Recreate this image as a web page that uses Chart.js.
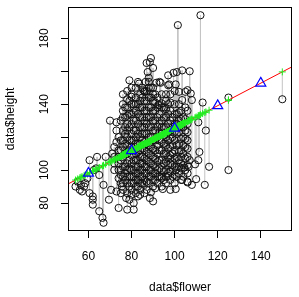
<!DOCTYPE html>
<html>
<head>
<meta charset="utf-8">
<script src="https://cdn.jsdelivr.net/npm/chart.js@4"></script>
<style>body{margin:0;background:#fff}</style>
</head>
<body>
<canvas id="myChart" width="299" height="297"></canvas>
<script>
// points (data$flower, data$height)
const edgeFlower = [
  54, 55, 56, 56.5, 57, 58, 58.5, 59.5, 60.5, 60.5, 62, 62, 62, 64, 63.5, 65, 66.5, 67, 67, 68,
  69.5, 70.5, 71, 70, 73, 73, 73, 76, 62.5, 65,
  74, 73, 75, 75.5, 77.5, 78, 79, 80, 81, 81, 83, 84, 86, 88.5, 90, 89, 86, 91, 94.5, 98,
  100.5, 94, 97,
  100.5, 98, 103, 103, 106, 103.5, 106, 108, 110, 114, 104.5, 106.5, 107, 109.5, 111, 111.5, 116, 114.5, 111, 125,
  125, 150, 112, 113, 101.5, 103.5, 107, 101, 106, 107.5, 108, 103.5, 105, 102, 97, 99.5, 93.5, 97, 93, 96,
  94, 92.5,
  89, 88.5, 90, 87.5, 87, 79, 83, 83.5, 88, 91.5, 93, 97.5, 100.5, 86, 80, 85.5, 86.5
];
const edgeHeight = [
  90, 93, 88, 91, 87, 90, 92, 95, 86, 106, 84, 79, 82, 108, 101, 75, 71, 68, 91, 108,
  82, 88, 110, 130, 129, 124, 117, 136, 100, 97,
  77, 87, 86, 90, 83, 76, 82, 85, 76, 80, 84, 85, 86, 83, 81, 86.5, 91, 89, 88.5, 88,
  88.5, 96, 96.5,
  100, 107, 101, 94, 92.5, 94, 93, 91, 94.5, 91, 101.5, 102, 106, 103.5, 106, 111, 102, 124, 129, 100,
  144, 143, 194, 141, 188, 160.5, 160, 159.5, 148.5, 146.5, 142.5, 142.5, 147.5, 147.5, 157.5, 159, 153, 151.5, 139.5, 146,
  140.5, 139.5,
  168, 165.5, 162, 159.5, 165, 154.5, 153.5, 152.5, 153.5, 153, 153.5, 152, 152, 147.5, 144.5, 148.5, 153.5
];

// colonnes denses au centre du nuage
const stripFlower = [72, 74, 75, 76, 77, 78, 79, 80, 81, 82, 83, 84, 85, 86, 87, 88, 89,
  90, 91, 92, 93, 94, 95, 96, 97, 98, 99, 100, 101, 102, 103, 104, 105, 106];
const stripHeight = [
  [100, 104, 108, 114],
  [95, 100, 104, 108, 112, 120],
  [92, 97, 100, 106, 112, 118, 130],
  [88, 92, 96, 102, 108, 114, 118, 124, 132, 140, 146],
  [94, 98, 102, 110, 116, 122, 126, 132, 138],
  [86, 92, 96, 100, 104, 110, 115, 120, 124, 128, 133, 138, 143, 148],
  [90, 96, 101, 106, 112, 118, 126, 134, 142],
  [88, 92, 96, 100, 104, 109, 114, 118, 122, 128, 134, 140, 146, 150],
  [92, 96, 100, 106, 112, 118, 124, 130, 135, 140],
  [86, 90, 94, 98, 102, 106, 110, 116, 120, 124, 130, 136, 140, 144, 150],
  [90, 94, 98, 102, 106, 111, 116, 122, 128, 134, 140],
  [88, 92, 96, 100, 104, 108, 112, 116, 120, 126, 132, 138, 142, 146],
  [92, 96, 100, 104, 108, 113, 118, 122, 126, 132, 138, 144, 150],
  [94, 98, 102, 107, 112, 117, 122, 126, 130, 136, 142, 148],
  [88, 93, 98, 102, 106, 111, 116, 122, 128, 132, 136, 142, 148],
  [92, 96, 100, 105, 110, 115, 120, 126, 132, 138, 144, 150, 156],
  [96, 100, 104, 109, 114, 120, 126, 132, 138, 144, 150],
  [90, 94, 98, 103, 108, 113, 118, 124, 130, 136, 142, 146, 150],
  [94, 98, 102, 107, 112, 118, 124, 130, 136, 141, 146],
  [92, 96, 100, 105, 110, 115, 120, 126, 132, 138, 144],
  [96, 101, 106, 112, 118, 123, 128, 134],
  [90, 95, 100, 106, 112, 117, 122, 126, 130, 138, 146],
  [94, 99, 104, 110, 116, 121, 126, 132, 138],
  [92, 96, 100, 105, 110, 115, 120, 126, 132, 137, 142],
  [98, 103, 108, 113, 118, 123, 128, 134, 140],
  [94, 99, 104, 109, 114, 119, 124, 130, 136, 141, 146],
  [96, 103, 110, 115, 120, 126, 132],
  [92, 97, 102, 107, 112, 118, 123, 128, 134, 140, 148],
  [96, 102, 108, 115, 122, 128, 134],
  [98, 102, 106, 111, 116, 123, 130, 135, 140],
  [104, 108, 112, 119, 126, 131, 136],
  [96, 103, 110, 115, 120, 126, 132],
  [100, 107, 114, 119, 124, 131, 138],
  [98, 103, 108, 113, 118, 123, 128, 136]
];

const fitCoef = [57, 0.684]; // ordonnee, pente (lm)
const predFlower = [60, 80, 100, 120, 140];

const xTicks = [60, 80, 100, 120, 140];
const xTickLabels = ["60", "80", "100", "120", "140"];
const yTicks = [80, 100, 120, 140, 160, 180];
const yTickLabels = ["80", "100", "", "140", "", "180"];
const xRange = [50.5, 154.5];
const yRange = [63, 199];

// table des points
const flower = edgeFlower.slice();
const height = edgeHeight.slice();
stripFlower.forEach((f, i) => {
  stripHeight[i].forEach(h => { flower.push(f); height.push(h); });
});

const fit = f => fitCoef[0] + fitCoef[1] * f;

const obsPoints = flower.map((f, i) => ({x: f, y: height[i]}));
const fittedPoints = flower.map(f => ({x: f, y: fit(f)}));
const segPoints = [];
flower.forEach((f, i) => {
  segPoints.push({x: f, y: height[i]}, {x: f, y: fit(f)}, {x: f, y: null});
});
const predPoints = predFlower.map(f => ({x: f, y: fit(f)}));
const linePoints = xRange.map(f => ({x: f, y: fit(f)}));

const FONT = '12px "Liberation Sans", Arial, sans-serif';

const texts = {
  id: "texts",
  afterDraw(chart) {
    const ctx = chart.ctx;
    const a = chart.chartArea;
    const sx = chart.scales.x, sy = chart.scales.y;
    ctx.save();
    ctx.strokeStyle = "#000";
    ctx.lineWidth = 1;
    ctx.strokeRect(a.left + 0.5, a.top + 0.5, a.right - a.left - 1, a.bottom - a.top - 1);
    ctx.fillStyle = "#000";
    ctx.font = FONT;
    ctx.textAlign = "center";
    ctx.textBaseline = "middle";
    xTicks.forEach((v, i) => {
      ctx.fillText(xTickLabels[i], sx.getPixelForValue(v), a.bottom + 26);
    });
    ctx.fillText("data$flower", (a.left + a.right) / 2, a.bottom + 57);
    yTicks.forEach((v, i) => {
      if (!yTickLabels[i]) return;
      ctx.save();
      ctx.translate(a.left - 23, sy.getPixelForValue(v));
      ctx.rotate(-Math.PI / 2);
      ctx.fillText(yTickLabels[i], 0, 0);
      ctx.restore();
    });
    ctx.save();
    ctx.translate(11, (a.top + a.bottom) / 2);
    ctx.rotate(-Math.PI / 2);
    ctx.fillText("data$height", 0, 0);
    ctx.restore();
    ctx.restore();
  }
};

const config = {
  type: "scatter",
  data: {
    datasets: [
      {
        data: predPoints, order: 1,
        pointStyle: "triangle", pointRadius: 5.8, pointBorderWidth: 1.2,
        borderColor: "#0000ff", backgroundColor: "rgba(0,0,0,0)"
      },
      {
        data: fittedPoints, order: 2,
        pointStyle: "cross", pointRadius: 3.5, pointBorderWidth: 1,
        borderColor: "#22ee22", backgroundColor: "rgba(0,0,0,0)"
      },
      {
        data: linePoints, order: 3, showLine: true,
        pointRadius: 0, borderWidth: 1, borderColor: "#ff0000"
      },
      {
        data: obsPoints, order: 4,
        pointStyle: "circle", pointRadius: 3.6, pointBorderWidth: 1,
        borderColor: "#111", backgroundColor: "rgba(0,0,0,0)"
      },
      {
        data: segPoints, order: 5, showLine: true, spanGaps: false,
        pointRadius: 0, borderWidth: 1, borderColor: "#c4c4c4"
      }
    ]
  },
  options: {
    responsive: false,
    animation: false,
    layout: {padding: {top: 7, right: 2, left: 0, bottom: 0}},
    plugins: {legend: {display: false}, tooltip: {enabled: false}},
    scales: {
      x: {
        type: "linear", min: xRange[0], max: xRange[1],
        afterBuildTicks: s => { s.ticks = xTicks.map(v => ({value: v})); },
        afterFit: s => { s.height = 66; },
        ticks: {display: false},
        border: {display: false},
        grid: {drawOnChartArea: false, drawTicks: true, tickLength: 7, color: "#000"}
      },
      y: {
        type: "linear", min: yRange[0], max: yRange[1],
        afterBuildTicks: s => { s.ticks = yTicks.map(v => ({value: v})); },
        afterFit: s => { s.width = 68; },
        ticks: {display: false},
        border: {display: false},
        grid: {drawOnChartArea: false, drawTicks: true, tickLength: 7, color: "#000"}
      }
    }
  },
  plugins: [texts]
};

/* creation du graphique */
const context = document.getElementById("myChart").getContext("2d");
const chart = new Chart(context, config);
</script>
</body>
</html>
